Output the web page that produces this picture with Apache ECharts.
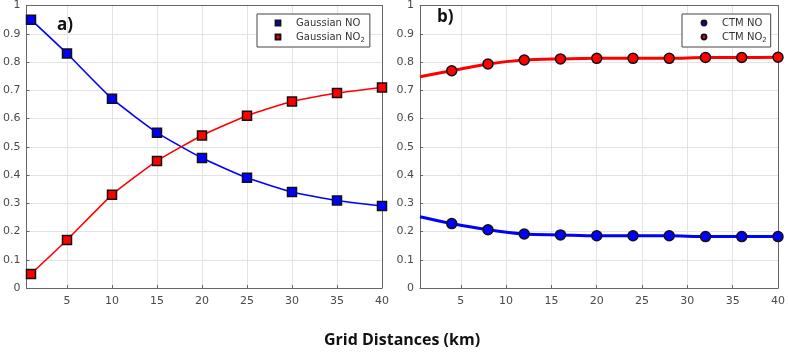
<!DOCTYPE html>
<html><head><meta charset="utf-8">
<script src="https://cdn.jsdelivr.net/npm/echarts@6/dist/echarts.min.js"></script>
<style>html,body{margin:0;padding:0;background:#fff}#c{width:788px;height:353px}</style>
</head><body><div id="c"></div>
<script>
// Panel a) Gaussian model
const gaussX = [1, 5, 10, 15, 20, 25, 30, 35, 40];
const gaussNO = [0.95, 0.83, 0.67, 0.55, 0.46, 0.39, 0.34, 0.31, 0.29];
const gaussNO2 = [0.05, 0.17, 0.33, 0.45, 0.54, 0.61, 0.66, 0.69, 0.71];
// Panel b) CTM model (first value is line start at left edge, no marker)
const ctmX = [0.5, 4, 8, 12, 16, 20, 24, 28, 32, 36, 40];
const ctmNO = [0.252, 0.228, 0.206, 0.191, 0.188, 0.185, 0.185, 0.185, 0.182, 0.182, 0.182];
const ctmNO2 = [0.748, 0.769, 0.793, 0.807, 0.811, 0.813, 0.813, 0.813, 0.816, 0.816, 0.817];
const xTicks = [5, 10, 15, 20, 25, 30, 35, 40];
const yTicks = [0, 0.1, 0.2, 0.3, 0.4, 0.5, 0.6, 0.7, 0.8, 0.9, 1];

const chart = echarts.init(document.getElementById('c'));
const axisCol = '#666';
const labCol = '#4a4a4a';
const fontF = 'DejaVu Sans';

function xAxis(idx) {
  return {
    type: 'value', gridIndex: idx, min: 0.5, max: 40, splitNumber: 8,
    axisLine: {show: true, onZero: false, lineStyle: {color: axisCol, width: 1}},
    axisTick: {show: true, inside: true, length: 3, lineStyle: {color: axisCol}, customValues: xTicks},
    axisLabel: {color: labCol, fontFamily: fontF, fontSize: 11, margin: 8, customValues: xTicks},
    splitLine: {show: true, lineStyle: {color: '#e3e3e3', width: 1}}
  };
}
function xTop(idx) {
  return {type: 'value', gridIndex: idx, position: 'top', min: 0.5, max: 40,
    axisLine: {show: true, onZero: false, lineStyle: {color: axisCol}}, axisTick: {show: false},
    axisLabel: {show: false}, splitLine: {show: false}};
}
function yAxis(idx) {
  return {
    type: 'value', gridIndex: idx, min: 0, max: 1, interval: 0.1,
    axisLine: {show: true, onZero: false, lineStyle: {color: axisCol}},
    axisTick: {show: true, inside: true, length: 3, lineStyle: {color: axisCol}},
    axisLabel: {color: labCol, fontFamily: fontF, fontSize: 11, margin: 6,
      formatter: v => yTicks[Math.round(v * 10)].toString()},
    splitLine: {show: true, lineStyle: {color: '#e3e3e3', width: 1}}
  };
}
function yRight(idx) {
  return {type: 'value', gridIndex: idx, position: 'right', min: 0, max: 1,
    axisLine: {show: true, onZero: false, lineStyle: {color: axisCol}}, axisTick: {show: false},
    axisLabel: {show: false}, splitLine: {show: false}};
}
const pairs = (xs, ys) => xs.map((x, i) => [x, ys[i]]);
const ctmPairs = (xs, ys) => xs.map((x, i) => i === 0 ? {value: [x, ys[i]], symbol: 'none'} : [x, ys[i]]);

const legendText = {
  color: '#333', fontFamily: fontF, fontSize: 10, padding: [0, 0, 0, 10],
  rich: {sub: {fontSize: 7, fontFamily: fontF, color: '#333', padding: [7, 0, 0, 0]}}
};
const legendFmt = n => n.endsWith('NO2') ? n.slice(0, -1) + '{sub|2}' : n;

chart.setOption({
  animation: false,
  grid: [
    {left: 25, right: 406, top: 4, bottom: 65},
    {left: 420, right: 9, top: 4, bottom: 65}
  ],
  xAxis: [xAxis(0), xAxis(1), xTop(0), xTop(1)],
  yAxis: [yAxis(0), yAxis(1), yRight(0), yRight(1)],
  legend: [
    {data: ['Gaussian NO', 'Gaussian NO2'], orient: 'vertical', left: 257, top: 14,
     itemWidth: 6, itemHeight: 6, itemGap: 4, padding: [4, 5, 3, 17], borderColor: '#444', borderWidth: 1,
     backgroundColor: '#fff', textStyle: legendText, formatter: legendFmt},
    {data: ['CTM NO', 'CTM NO2'], orient: 'vertical', left: 682, top: 14,
     itemWidth: 6, itemHeight: 6, itemGap: 4, padding: [4, 4, 3, 18], borderColor: '#444', borderWidth: 1,
     backgroundColor: '#fff', textStyle: legendText, formatter: legendFmt}
  ],
  graphic: [
    {type: 'text', left: 57, top: 17, style: {text: 'a)', font: 'bold 17px "Open Sans"', fill: '#111'}},
    {type: 'text', left: 437, top: 9, style: {text: 'b)', font: 'bold 17px "Open Sans"', fill: '#111'}},
    {type: 'text', left: 324, top: 332, style: {text: 'Grid Distances (km)', font: 'bold 16px "Open Sans"', fill: '#111'}}
  ],
  series: [
    {name: 'Gaussian NO', type: 'line', xAxisIndex: 0, yAxisIndex: 0, smooth: 0.15,
     data: pairs(gaussX, gaussNO), symbol: 'rect', symbolSize: 9,
     lineStyle: {color: '#0000ff', width: 1.6},
     itemStyle: {color: '#0000ff', borderColor: '#111', borderWidth: 1.5}},
    {name: 'Gaussian NO2', type: 'line', xAxisIndex: 0, yAxisIndex: 0, smooth: 0.15,
     data: pairs(gaussX, gaussNO2), symbol: 'rect', symbolSize: 9,
     lineStyle: {color: '#ff0000', width: 1.6},
     itemStyle: {color: '#ff0000', borderColor: '#111', borderWidth: 1.5}},
    {name: 'CTM NO', type: 'line', xAxisIndex: 1, yAxisIndex: 1, smooth: 0.3,
     data: ctmPairs(ctmX, ctmNO), symbol: 'circle', symbolSize: 10,
     lineStyle: {color: '#0000ff', width: 3},
     itemStyle: {color: '#0000ff', borderColor: '#111', borderWidth: 1.5}},
    {name: 'CTM NO2', type: 'line', xAxisIndex: 1, yAxisIndex: 1, smooth: 0.3,
     data: ctmPairs(ctmX, ctmNO2), symbol: 'circle', symbolSize: 10,
     lineStyle: {color: '#ff0000', width: 3},
     itemStyle: {color: '#ff0000', borderColor: '#111', borderWidth: 1.5}}
  ]
});
</script></body></html>
